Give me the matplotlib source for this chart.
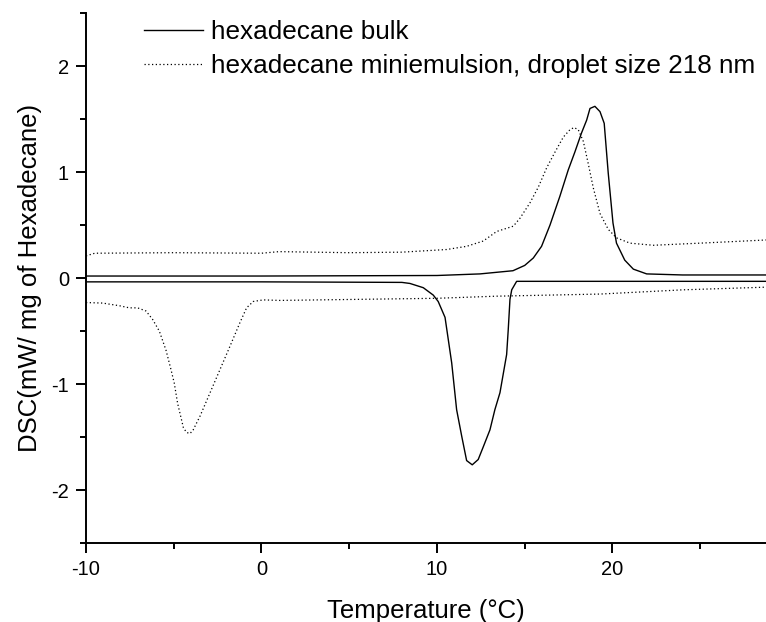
import numpy as np
import matplotlib
matplotlib.use("Agg")
from matplotlib import pyplot as plt

plt.rcParams['font.family'] = ['Liberation Sans', 'DejaVu Sans']
plt.rcParams['axes.unicode_minus'] = False

# hexadecane bulk, heating (upper solid curve)
bulk_heat_t = [-10, 0, 10, 12.45, 14.33, 15.0, 15.49, 15.96, 16.44, 17.0, 17.48, 17.86,
               18.24, 18.53, 18.72, 19.0, 19.29, 19.53, 19.76, 20.03, 20.23, 20.70,
               21.19, 21.95, 24.0, 28.75]
bulk_heat_dsc = [0.02, 0.02, 0.025, 0.04, 0.07, 0.12, 0.19, 0.30, 0.50, 0.77, 1.02, 1.19,
                 1.37, 1.49, 1.60, 1.62, 1.57, 1.46, 0.99, 0.52, 0.33, 0.17,
                 0.085, 0.04, 0.03, 0.03]

# hexadecane bulk, cooling (lower solid curve)
bulk_cool_t = [-10, 0, 8.0, 8.46, 9.22, 9.79, 10.07, 10.46, 10.84, 11.12, 11.41, 11.69,
               12.01, 12.35, 12.64, 13.02, 13.30, 13.59, 13.97, 14.06, 14.16, 14.26,
               14.54, 20.0, 28.75]
bulk_cool_dsc = [-0.035, -0.035, -0.04, -0.05, -0.09, -0.16, -0.22, -0.37, -0.80, -1.24,
                 -1.49, -1.72, -1.76, -1.71, -1.59, -1.43, -1.24, -1.08, -0.72, -0.49,
                 -0.20, -0.11, -0.03, -0.03, -0.03]

# miniemulsion, heating (upper dotted curve)
mini_heat_t = [-10, -9.5, -5, 0, 1, 5, 8, 10.55, 11.69, 12.64, 13.40, 14.35, 14.73, 15.30,
               15.78, 16.25, 16.73, 17.20, 17.58, 17.81, 18.05, 18.34, 18.62, 18.91,
               19.29, 19.76, 20.23, 21.0, 22.33, 24.99, 26.9, 28.75]
mini_heat_dsc = [0.21, 0.235, 0.24, 0.235, 0.25, 0.24, 0.245, 0.27, 0.30, 0.35, 0.44, 0.49,
                 0.565, 0.71, 0.86, 1.04, 1.19, 1.33, 1.40, 1.42, 1.40, 1.29, 1.08, 0.85,
                 0.61, 0.46, 0.38, 0.33, 0.31, 0.33, 0.345, 0.36]

# miniemulsion, cooling (lower dotted curve)
mini_cool_t = [-10, -9.05, -8.1, -7.53, -7.06, -6.58, -6.2, -5.82, -5.44, -5.16, -4.97,
               -4.78, -4.45, -4.27, -4.07, -3.89, -3.5, -2.93, -2.36, -1.79, -1.23, -0.85,
               -0.47, 0.1, 1.05, 9.98, 13.40, 19.29, 24.03, 28.75]
mini_cool_dsc = [-0.23, -0.235, -0.26, -0.28, -0.28, -0.31, -0.39, -0.50, -0.68, -0.86,
                 -0.99, -1.18, -1.41, -1.455, -1.465, -1.43, -1.30, -1.08, -0.86, -0.64,
                 -0.42, -0.28, -0.22, -0.205, -0.21, -0.19, -0.17, -0.15, -0.11, -0.085]

labels = ["hexadecane bulk", "hexadecane miniemulsion, droplet size 218 nm"]

fig = plt.figure(figsize=(7.66, 6.22), dpi=100)
ax = fig.add_axes([86 / 766, 1 - 543.3 / 622, 1 - 86 / 766, (543.3 - 13) / 622])

dots = (0, (1, 2))
ax.plot(bulk_heat_t, bulk_heat_dsc, color='black', lw=1.0, label=labels[0])
ax.plot(bulk_cool_t, bulk_cool_dsc, color='black', lw=1.0)
ax.plot(mini_heat_t, mini_heat_dsc, color='black', lw=0.9, ls=dots, label=labels[1])
ax.plot(mini_cool_t, mini_cool_dsc, color='black', lw=0.9, ls=dots)

ax.set_xlim(-10, 28.75)
ax.set_ylim(-2.5, 2.5)
ax.set_xticks([-10, 0, 10, 20])
ax.set_xticks([-5, 5, 15, 25], minor=True)
ax.set_yticks([-2, -1, 0, 1, 2])
ax.set_yticks([-2.5, -1.5, -0.5, 0.5, 1.5, 2.5], minor=True)

for side in ['top', 'right']:
    ax.spines[side].set_visible(False)
for side in ['left', 'bottom']:
    ax.spines[side].set_linewidth(1.4)

ax.tick_params(which='major', direction='out', length=7.2, width=1.4, labelsize=14.5, pad=5)
ax.tick_params(which='minor', direction='out', length=4.3, width=1.4)

ax.set_xlabel("Temperature (°C)", fontsize=18.5, labelpad=14)
ax.set_ylabel("DSC(mW/ mg of Hexadecane)", fontsize=18.5, labelpad=7)

ax.legend(loc='upper left', bbox_to_anchor=(144 / 766, 1 - 20 / 622),
          bbox_transform=fig.transFigure, frameon=False, fontsize=18.8,
          handlelength=2.27, handletextpad=0.3, labelspacing=0.37,
          borderpad=0, borderaxespad=0)

fig.savefig("out.png", dpi=100)
